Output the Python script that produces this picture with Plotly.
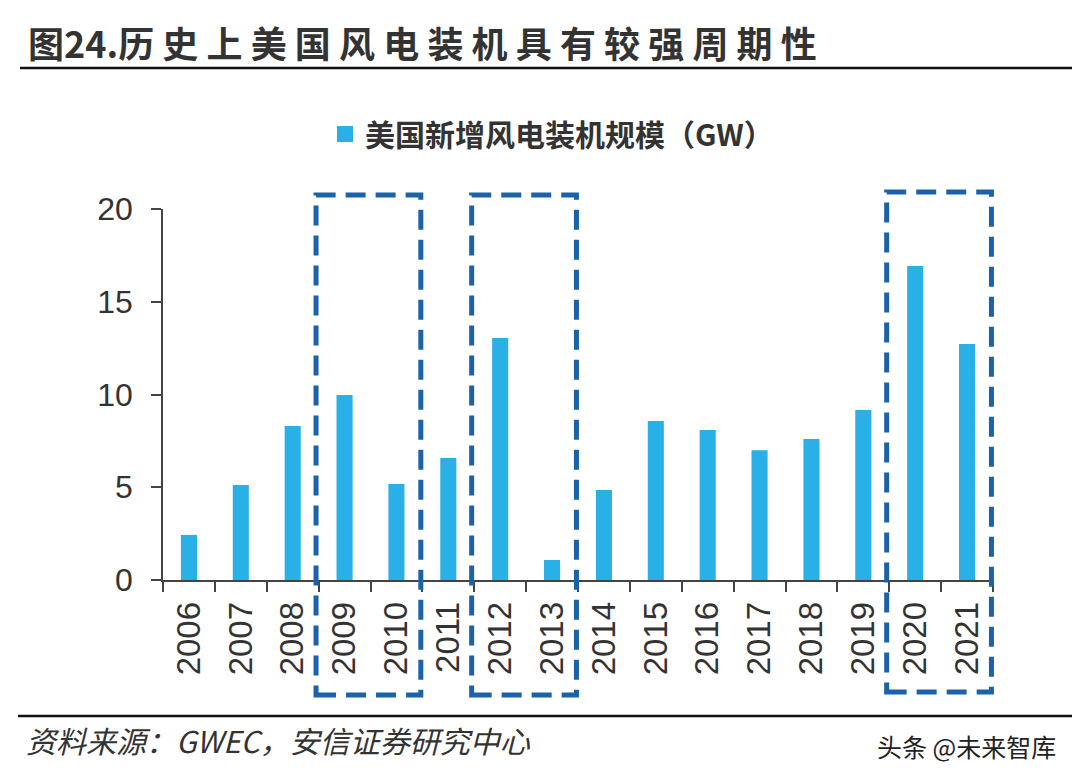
import plotly.graph_objects as go

years = ["2006", "2007", "2008", "2009", "2010", "2011", "2012", "2013",
         "2014", "2015", "2016", "2017", "2018", "2019", "2020", "2021"]
installs_gw = [2.43, 5.12, 8.3, 9.97, 5.17, 6.58, 13.05, 1.08,
               4.85, 8.57, 8.09, 7.0, 7.6, 9.16, 16.93, 12.72]
y_ticks = [0, 5, 10, 15, 20]
highlight_groups = [("2009", "2010"), ("2012", "2013"), ("2020", "2021")]

series_name = "美国新增风电装机规模（GW）"
title_text = "图24.历 史 上 美 国 风 电 装 机 具 有 较 强 周 期 性"
source_text = "资料来源：GWEC，安信证券研究中心"
watermark_text = "头条 @未来智库"

BAR_COLOR = "#29b0e6"
BOX_COLOR = "#1b62a8"

# page has an 8px body margin; work in window pixel coordinates
OFF = 8
W, H = 1080 - OFF, 782 - OFF
L, R, T, B = 163, 993, 209, 580  # plot area in window pixels

def px_x(p):
    return (p - L) / (R - L)

def px_y(p):
    return (B - p) / (B - T)

fig = go.Figure()
fig.add_trace(go.Bar(
    x=years, y=installs_gw, name=series_name, showlegend=False,
    marker=dict(color=BAR_COLOR, line=dict(width=0)), width=0.31,
))
# legend entry with a larger square swatch
fig.add_trace(go.Scatter(
    x=[None], y=[None], mode="markers", name=series_name,
    marker=dict(symbol="square", size=17, color=BAR_COLOR),
))

# dashed highlight boxes
n = len(years)
for a, b in highlight_groups:
    ia, ib = years.index(a), years.index(b)
    x0 = (ia - 0.05) / n
    x1 = (ib + 0.97) / n
    top = 195 if a != "2020" else 192
    bot = 695 if a != "2020" else 692
    fig.add_shape(type="rect", xref="paper", yref="paper",
                  x0=x0, x1=x1, y0=px_y(bot), y1=px_y(top),
                  line=dict(color=BOX_COLOR, width=5, dash="20px,10px"),
                  fillcolor="rgba(0,0,0,0)", layer="above")

# title rule and footer rule
fig.add_shape(type="line", xref="paper", yref="paper",
              x0=px_x(20), x1=px_x(1080), y0=px_y(68), y1=px_y(68),
              line=dict(color="#111111", width=2.5))
fig.add_shape(type="line", xref="paper", yref="paper",
              x0=px_x(18), x1=px_x(1075), y0=px_y(716), y1=px_y(716),
              line=dict(color="#111111", width=2.5))

fig.add_annotation(text="<b>" + title_text + "</b>",
                   xref="paper", yref="paper", x=px_x(26), y=px_y(42),
                   xanchor="left", yanchor="middle", showarrow=False,
                   font=dict(family="Noto Sans CJK SC", size=36, color="#333333"))
fig.add_annotation(text="<i>" + source_text + "</i>",
                   xref="paper", yref="paper", x=px_x(24), y=px_y(740),
                   xanchor="left", yanchor="middle", showarrow=False,
                   font=dict(family="Noto Sans CJK SC", size=30, color="#333333"))
fig.add_annotation(text=watermark_text,
                   xref="paper", yref="paper", x=px_x(1058), y=px_y(746),
                   xanchor="right", yanchor="middle", showarrow=False,
                   font=dict(family="Noto Sans CJK SC", size=25, color="#222222"))

fig.update_layout(
    width=W, height=H,
    margin=dict(l=L - OFF, r=W - (R - OFF), t=T - OFF, b=H - (B - OFF), pad=0),
    paper_bgcolor="white", plot_bgcolor="white",
    bargap=0.69,
    showlegend=True,
    legend=dict(orientation="h", x=px_x(552), y=px_y(134), xanchor="center",
                yanchor="middle", itemwidth=30,
                font=dict(family="Noto Sans CJK SC", size=30, color="#333333",
                          weight="bold"),
                itemsizing="trace"),
    font=dict(family="Liberation Sans, Arial", color="#333333"),
)
fig.update_xaxes(type="category", showline=True, linecolor="#444444", linewidth=1.5,
                 ticks="outside", ticklen=10, tickcolor="#444444", tickwidth=1.5,
                 tickson="boundaries", tickangle=-90, ticklabelstandoff=7,
                 tickfont=dict(family="Liberation Sans, Arial", size=33, color="#333333"),
                 showgrid=False)
fig.update_yaxes(range=[0, 20], tickvals=y_ticks, showline=True, linecolor="#444444",
                 linewidth=1.5, ticks="outside", ticklen=10, tickcolor="#444444",
                 tickwidth=1.5, showgrid=False, zeroline=False, ticklabelstandoff=12,
                 tickfont=dict(family="Liberation Sans, Arial", size=32, color="#333333"))

fig.write_html("out.html")
